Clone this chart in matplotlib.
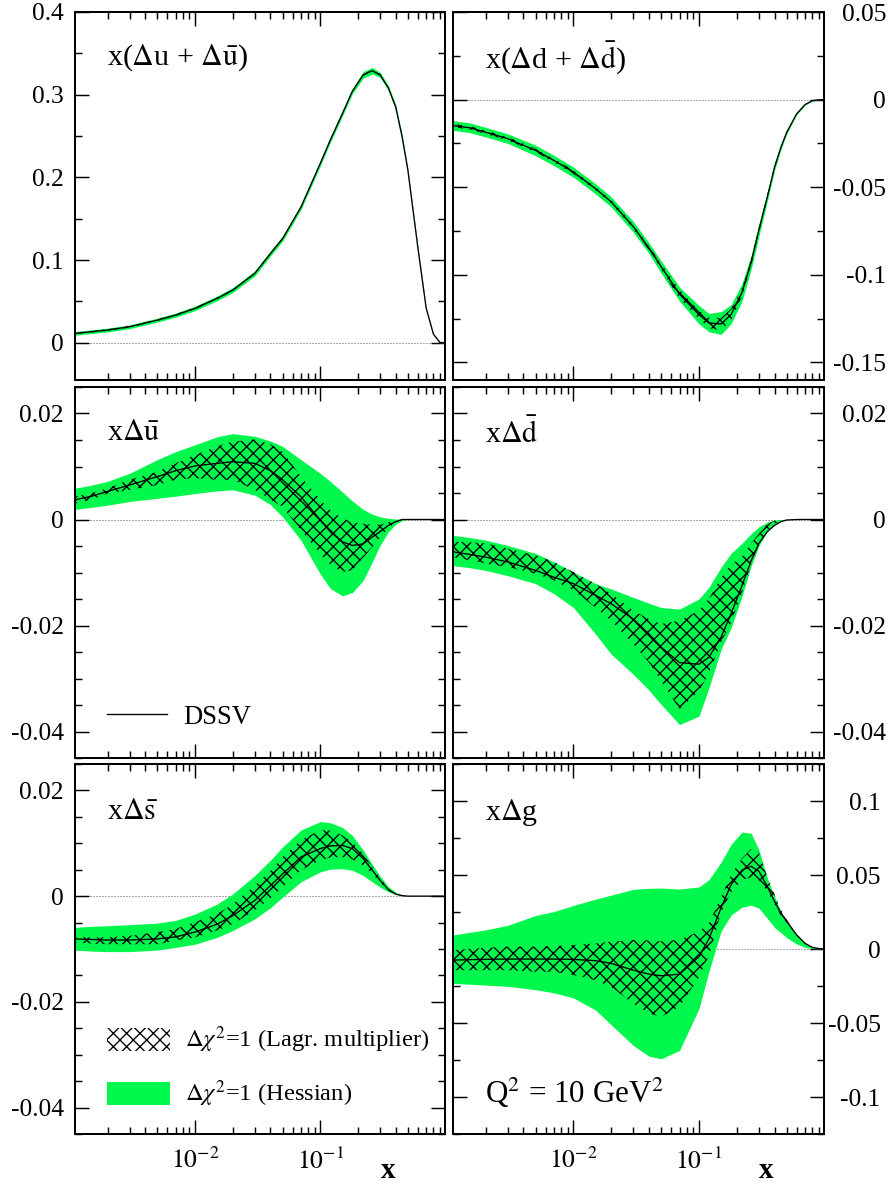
import numpy as np
import matplotlib
matplotlib.use('Agg')
import matplotlib.pyplot as plt
from matplotlib.ticker import MultipleLocator, LogLocator, FixedLocator, FuncFormatter, NullFormatter
from matplotlib.lines import Line2D
from matplotlib.patches import Patch

plt.rcParams['font.family'] = ['Liberation Serif', 'DejaVu Serif']
plt.rcParams['mathtext.fontset'] = 'stix'
plt.rcParams['axes.unicode_minus'] = False
plt.rcParams['hatch.linewidth'] = 1.2

x = [0.0011, 0.0015, 0.002, 0.003, 0.005, 0.007, 0.01, 0.015, 0.02, 0.03, 0.04, 0.05, 0.07,
     0.1, 0.12, 0.15, 0.18, 0.22, 0.26, 0.3, 0.35, 0.4, 0.45, 0.5, 0.6, 0.7, 0.8, 0.9, 0.99]

# x(du + dubar): central, hessian up/low, lagrange up/low
uv_c = [0.0113, 0.0135, 0.0154, 0.0194, 0.0274, 0.0335, 0.0416, 0.0537, 0.0637, 0.084, 0.108, 0.126, 0.164,
        0.217, 0.245, 0.277, 0.304, 0.324, 0.329, 0.324, 0.308, 0.285, 0.249, 0.209, 0.116, 0.042, 0.0105, 0.0005, 0.0]
uv_hu = [0.0135, 0.0157, 0.0177, 0.0217, 0.0298, 0.036, 0.0443, 0.0565, 0.0666, 0.087, 0.111, 0.129, 0.167,
         0.220, 0.248, 0.280, 0.307, 0.328, 0.333, 0.327, 0.311, 0.288, 0.252, 0.211, 0.118, 0.043, 0.011, 0.001, 0.0]
uv_hl = [0.0091, 0.0113, 0.0131, 0.0171, 0.025, 0.031, 0.0389, 0.0509, 0.0608, 0.081, 0.105, 0.123, 0.161,
         0.214, 0.242, 0.274, 0.301, 0.320, 0.325, 0.321, 0.305, 0.282, 0.246, 0.207, 0.114, 0.041, 0.010, 0.0, 0.0]
uv_lu = [0.0123, 0.0145, 0.0164, 0.0204, 0.0284, 0.0345, 0.0426, 0.0547, 0.0647, 0.085, 0.109, 0.127, 0.165,
         0.218, 0.246, 0.278, 0.305, 0.325, 0.330, 0.325, 0.309, 0.286, 0.250, 0.210, 0.117, 0.0425, 0.0107, 0.0007, 0.0]
uv_ll = [0.0103, 0.0125, 0.0144, 0.0184, 0.0264, 0.0325, 0.0406, 0.0527, 0.0627, 0.083, 0.107, 0.125, 0.163,
         0.216, 0.244, 0.276, 0.303, 0.323, 0.328, 0.323, 0.307, 0.284, 0.248, 0.208, 0.115, 0.0415, 0.0103, 0.0003, 0.0]

# x(dd + ddbar)
dv_c = [-0.0148, -0.0161, -0.0186, -0.0223, -0.029, -0.0347, -0.0413, -0.0508, -0.0583, -0.0725, -0.0848, -0.0953,
        -0.111, -0.1227, -0.1275, -0.128, -0.1227, -0.110, -0.093, -0.0744, -0.0555, -0.0384, -0.0271, -0.0186,
        -0.0081, -0.0028, -0.0006, -0.0001, 0.0]
dv_hu = [-0.012, -0.0133, -0.0158, -0.0195, -0.026, -0.0318, -0.0385, -0.048, -0.0555, -0.0695, -0.0818, -0.092,
         -0.107, -0.1175, -0.122, -0.121, -0.117, -0.105, -0.089, -0.071, -0.053, -0.0365, -0.0258, -0.0177,
         -0.0076, -0.0025, -0.0004, 0.0, 0.0]
dv_hl = [-0.0175, -0.0189, -0.0213, -0.025, -0.032, -0.0377, -0.0443, -0.0538, -0.0613, -0.0757, -0.0878, -0.099,
         -0.115, -0.128, -0.1325, -0.134, -0.128, -0.115, -0.097, -0.078, -0.058, -0.0403, -0.0284, -0.0195,
         -0.0086, -0.0031, -0.0008, -0.0002, 0.0]
dv_lu = [-0.0138, -0.0151, -0.0176, -0.0213, -0.028, -0.0337, -0.0403, -0.0498, -0.0573, -0.0713, -0.0836, -0.0938,
         -0.1085, -0.1205, -0.1245, -0.1245, -0.1195, -0.1075, -0.091, -0.0728, -0.0543, -0.0375, -0.0264, -0.0181,
         -0.0078, -0.0026, -0.0005, -0.0001, 0.0]
dv_ll = [-0.0158, -0.0171, -0.0196, -0.0233, -0.030, -0.0357, -0.0423, -0.0518, -0.0593, -0.0737, -0.086, -0.0968,
         -0.1135, -0.125, -0.1305, -0.1315, -0.126, -0.1125, -0.095, -0.076, -0.0567, -0.0393, -0.0278, -0.0191,
         -0.0084, -0.003, -0.0007, -0.0001, 0.0]

# x ubar
ub_c = [0.0037, 0.0044, 0.0053, 0.0065, 0.0081, 0.0092, 0.0101, 0.0106, 0.0109, 0.0106, 0.0092, 0.0075, 0.0043,
        -0.0001, -0.0023, -0.0042, -0.0049, -0.0046, -0.0033, -0.0023, -0.0011, -0.0004, 0.0, 0.0, 0.0, 0.0, 0.0,
        0.0, 0.0]
ub_hu = [0.0059, 0.0065, 0.0072, 0.0087, 0.0113, 0.0128, 0.0141, 0.0156, 0.0162, 0.0157, 0.0148, 0.0138, 0.0113,
         0.0087, 0.0072, 0.0052, 0.0035, 0.0019, 0.0010, 0.0005, 0.0002, 0.0001, 0.0, 0.0, 0.0, 0.0, 0.0,
         0.0, 0.0]
ub_hl = [0.0019, 0.0023, 0.0027, 0.0034, 0.004, 0.0044, 0.0049, 0.0054, 0.0056, 0.0046, 0.0028, 0.0005, -0.0039,
         -0.0103, -0.013, -0.0144, -0.0138, -0.0115, -0.008, -0.0049, -0.0023, -0.0009, -0.0002, 0.0, 0.0, 0.0, 0.0,
         0.0, 0.0]
ub_lu = [0.0043, 0.005, 0.0059, 0.0075, 0.009, 0.0106, 0.0122, 0.0138, 0.0147, 0.0151, 0.0142, 0.0128, 0.0081,
         0.0037, 0.0018, 0.0002, -0.0005, -0.0008, -0.001, -0.001, -0.0005, -0.0002, 0.0, 0.0, 0.0, 0.0, 0.0,
         0.0, 0.0]
ub_ll = [0.003, 0.0038, 0.0049, 0.0056, 0.0065, 0.0075, 0.0078, 0.0075, 0.0075, 0.0056, 0.0038, 0.0024, -0.002,
         -0.0065, -0.0085, -0.0099, -0.0096, -0.0072, -0.0052, -0.0034, -0.0016, -0.0006, -0.0001, 0.0, 0.0, 0.0,
         0.0, 0.0, 0.0]

# x dbar
db_c = [-0.0061, -0.0066, -0.0071, -0.008, -0.0096, -0.0109, -0.0121, -0.0143, -0.0159, -0.0188, -0.0216, -0.0241,
        -0.027, -0.0273, -0.026, -0.0222, -0.0178, -0.0125, -0.0078, -0.0045, -0.0023, -0.0011, -0.0004, -0.0001,
        0.0, 0.0, 0.0, 0.0, 0.0]
db_hu = [-0.003, -0.0034, -0.0039, -0.0049, -0.0064, -0.008, -0.0099, -0.0121, -0.0131, -0.0147, -0.0158, -0.0166,
         -0.0169, -0.015, -0.0128, -0.009, -0.0064, -0.0045, -0.0027, -0.0014, -0.0005, -0.0001, 0.0, 0.0,
         0.0, 0.0, 0.0, 0.0, 0.0]
db_hl = [-0.0087, -0.0091, -0.0096, -0.0106, -0.0121, -0.014, -0.0166, -0.0216, -0.0254, -0.0292, -0.0322, -0.0349,
         -0.0387, -0.0371, -0.0318, -0.0245, -0.0205, -0.0145, -0.0088, -0.005, -0.0022, -0.0008, -0.0002, 0.0,
         0.0, 0.0, 0.0, 0.0, 0.0]
db_lu = [-0.0042, -0.0043, -0.0045, -0.0055, -0.0068, -0.008, -0.0099, -0.0121, -0.014, -0.0172, -0.0188, -0.0197,
         -0.0191, -0.0172, -0.015, -0.011, -0.0085, -0.0071, -0.0045, -0.0027, -0.0008, -0.0002, 0.0, 0.0,
         0.0, 0.0, 0.0, 0.0, 0.0]
db_ll = [-0.0071, -0.0077, -0.0083, -0.009, -0.0102, -0.0115, -0.0134, -0.0166, -0.0191, -0.0235, -0.027, -0.0305,
         -0.0358, -0.0324, -0.029, -0.0232, -0.0195, -0.0138, -0.0085, -0.0048, -0.0021, -0.0008, -0.0002, 0.0,
         0.0, 0.0, 0.0, 0.0, 0.0]

# x sbar
sb_c = [-0.0081, -0.0082, -0.0083, -0.0083, -0.0081, -0.0077, -0.0068, -0.0053, -0.0037, -0.0008, 0.002, 0.0042,
        0.0074, 0.009, 0.0095, 0.0096, 0.009, 0.0071, 0.0049, 0.003, 0.0012, 0.0004, 0.0001, 0.0, 0.0, 0.0, 0.0,
        0.0, 0.0]
sb_hu = [-0.0059, -0.0057, -0.0056, -0.0054, -0.0051, -0.0046, -0.0034, -0.0015, 0.0004, 0.0039, 0.0068, 0.0093,
         0.0125, 0.0141, 0.0139, 0.013, 0.0115, 0.0087, 0.006, 0.0038, 0.0018, 0.0007, 0.0002, 0.0, 0.0, 0.0, 0.0,
         0.0, 0.0]
sb_hl = [-0.0102, -0.0104, -0.0105, -0.0105, -0.0102, -0.0097, -0.0091, -0.0078, -0.0065, -0.0043, -0.0022, -0.0002,
         0.0027, 0.0046, 0.0051, 0.0052, 0.0049, 0.0039, 0.0027, 0.0017, 0.0008, 0.0003, 0.0001, 0.0, 0.0, 0.0, 0.0,
         0.0, 0.0]
sb_lu = [-0.0078, -0.0078, -0.0078, -0.0075, -0.0068, -0.0062, -0.0049, -0.0034, -0.0015, 0.002, 0.0048, 0.0074,
         0.0106, 0.0125, 0.0124, 0.0115, 0.0102, 0.008, 0.0055, 0.0035, 0.0015, 0.0005, 0.0001, 0.0, 0.0, 0.0, 0.0,
         0.0, 0.0]
sb_ll = [-0.0087, -0.009, -0.0091, -0.0091, -0.0091, -0.0084, -0.0078, -0.0065, -0.0053, -0.0027, -0.0004, 0.0017,
         0.0049, 0.0068, 0.0073, 0.0074, 0.007, 0.0058, 0.0042, 0.0026, 0.001, 0.0003, 0.0, 0.0, 0.0, 0.0, 0.0,
         0.0, 0.0]

# x g
g_c = [-0.0075, -0.0072, -0.007, -0.0068, -0.0068, -0.0068, -0.007, -0.0079, -0.0097, -0.0143, -0.017, -0.0181,
       -0.017, -0.0052, 0.0068, 0.0278, 0.0434, 0.0532, 0.0559, 0.0525, 0.0423, 0.0321, 0.0242, 0.0186, 0.0095,
       0.0038, 0.0011, 0.0003, 0.0]
g_hu = [0.0095, 0.0113, 0.0129, 0.016, 0.0226, 0.0253, 0.0294, 0.0337, 0.0364, 0.0403, 0.041, 0.0412, 0.0405,
        0.0419, 0.0468, 0.0586, 0.0706, 0.079, 0.0783, 0.067, 0.048, 0.0355, 0.0253, 0.0188, 0.0098, 0.004, 0.0012,
        0.0003, 0.0]
g_hl = [-0.0233, -0.0238, -0.0244, -0.0252, -0.0275, -0.0296, -0.033, -0.0412, -0.0512, -0.0652, -0.0724, -0.0742,
        -0.0685, -0.0403, -0.0152, 0.012, 0.0229, 0.0283, 0.0296, 0.0276, 0.0208, 0.0145, 0.011, 0.0076, 0.0034,
        0.0011, 0.0003, 0.0001, 0.0]
g_lu = [-0.0007, 0.0002, 0.0008, 0.0016, 0.0016, 0.002, 0.0027, 0.0038, 0.005, 0.0061, 0.0058, 0.0052, 0.0061,
        0.0118, 0.0175, 0.035, 0.05, 0.0613, 0.0675, 0.065, 0.0491, 0.037, 0.0265, 0.02, 0.0098, 0.004, 0.0012,
        0.0003, 0.0]
g_ll = [-0.0143, -0.0143, -0.0143, -0.0143, -0.0154, -0.0154, -0.0176, -0.021, -0.0256, -0.0369, -0.0435, -0.0459,
        -0.039, -0.019, -0.0045, 0.0245, 0.0383, 0.0465, 0.0485, 0.0465, 0.039, 0.03, 0.0225, 0.0175, 0.009,
        0.0036, 0.001, 0.0002, 0.0]

labels = [r'x($\Delta$u + $\Delta\bar{\rm u}$)', r'x($\Delta$d + $\Delta\bar{\rm d}$)',
          r'x$\Delta\bar{\rm u}$', r'x$\Delta\bar{\rm d}$',
          r'x$\Delta\bar{\rm s}$', r'x$\Delta$g']
ylims = [(-0.045, 0.4), (-0.16, 0.05), (-0.045, 0.025), (-0.045, 0.025), (-0.045, 0.025), (-0.125, 0.125)]
ymajor = [0.1, 0.05, 0.02, 0.02, 0.02, 0.05]
yminor = [0.05, 0.025, 0.005, 0.005, 0.005, 0.025]
panels = [(uv_c, uv_hu, uv_hl, uv_lu, uv_ll), (dv_c, dv_hu, dv_hl, dv_lu, dv_ll),
          (ub_c, ub_hu, ub_hl, ub_lu, ub_ll), (db_c, db_hu, db_hl, db_lu, db_ll),
          (sb_c, sb_hu, sb_hl, sb_lu, sb_ll), (g_c, g_hu, g_hl, g_lu, g_ll)]

green = '#00f84c'
W, H = 895, 1186
fig = plt.figure(figsize=(W / 80, H / 80), dpi=80)

cols = [(75, 445), (453, 824)]
rows = [(12, 380), (387, 758), (764, 1134)]


def yfmt(v, pos):
    if abs(v) < 1e-9:
        return '0'
    return '{:g}'.format(round(v, 4))


axes = []
for i in range(6):
    r, c = divmod(i, 2)
    x0, x1 = cols[c]
    y0, y1 = rows[r]
    ax = fig.add_axes([x0 / W, 1 - y1 / H, (x1 - x0) / W, (y1 - y0) / H])
    axes.append(ax)
    cen, hu, hl, lu, ll = panels[i]
    ax.axhline(0, color='#555555', ls=(0, (1, 2)), lw=0.9, zorder=1)
    ax.fill_between(x, hl, hu, color=green, lw=0, zorder=2)
    ax.fill_between(x, ll, lu, facecolor='none', edgecolor='black', hatch='xx', lw=0, zorder=3)
    ax.plot(x, cen, color='black', lw=1.2, zorder=4)
    ax.set_xscale('log')
    ax.set_xlim(0.0011, 0.99)
    ax.set_ylim(*ylims[i])
    ax.yaxis.set_major_locator(MultipleLocator(ymajor[i]))
    ax.yaxis.set_minor_locator(MultipleLocator(yminor[i]))
    ax.yaxis.set_major_formatter(FuncFormatter(yfmt))
    ax.xaxis.set_major_locator(FixedLocator([1e-3, 1e-2, 1e-1, 1.0]))
    ax.xaxis.set_minor_locator(LogLocator(base=10, subs=np.arange(2, 10), numticks=20))
    ax.xaxis.set_minor_formatter(NullFormatter())
    ax.xaxis.set_major_formatter(FuncFormatter(lambda v, p: r'$10^{%d}$' % round(np.log10(v))))
    ax.tick_params(which='both', direction='in', top=True, bottom=True, left=True, right=True,
                   labelsize=23, width=1.3)
    ax.tick_params(which='major', length=12.5)
    ax.tick_params(which='minor', length=6)
    ax.tick_params(axis='x', pad=12)
    for s in ax.spines.values():
        s.set_linewidth(1.8)
    if r < 2:
        ax.tick_params(axis='x', labelbottom=False)
    if c == 1:
        ax.tick_params(axis='y', labelleft=False, labelright=True, pad=56 if r < 2 else 51)
        plt.setp(ax.get_yticklabels(), ha='right')
    else:
        ax.tick_params(axis='y', pad=10)
    ax.text(0.086, 0.875 if r < 2 else 0.87, labels[i], transform=ax.transAxes,
            fontsize=27, ha='left', va='center')

# bottom-right panel: scale note
axes[5].text(0.086, 0.111, r'Q$^2$ = 10 GeV$^2$', transform=axes[5].transAxes,
             fontsize=28, ha='left', va='center')

# DSSV legend in the xubar panel
axes[2].legend(handles=[Line2D([], [], color='black', lw=1.2)], labels=['DSSV'],
               loc='center left', bbox_to_anchor=(0.086, 0.11), frameon=False, fontsize=24,
               handlelength=2.25, handletextpad=0.6, borderpad=0, borderaxespad=0)

# band legend in the xsbar panel
band_handles = [Patch(facecolor='none', edgecolor='black', hatch='xx', lw=0),
                Patch(facecolor=green, edgecolor='none')]
axes[4].legend(handles=band_handles,
               labels=[r'$\Delta\chi^2$=1 (Lagr. multiplier)', r'$\Delta\chi^2$=1 (Hessian)'],
               loc='center left', bbox_to_anchor=(0.086, 0.181), frameon=False, fontsize=22,
               handlelength=2.58, handleheight=1.07, handletextpad=0.6, labelspacing=0.95,
               borderpad=0, borderaxespad=0)

for ax in axes[4:]:
    ax.text(0.845, -0.1, 'x', transform=ax.transAxes, fontsize=26, fontweight='bold',
            ha='center', va='center')

fig.savefig('out.png', dpi=80)
